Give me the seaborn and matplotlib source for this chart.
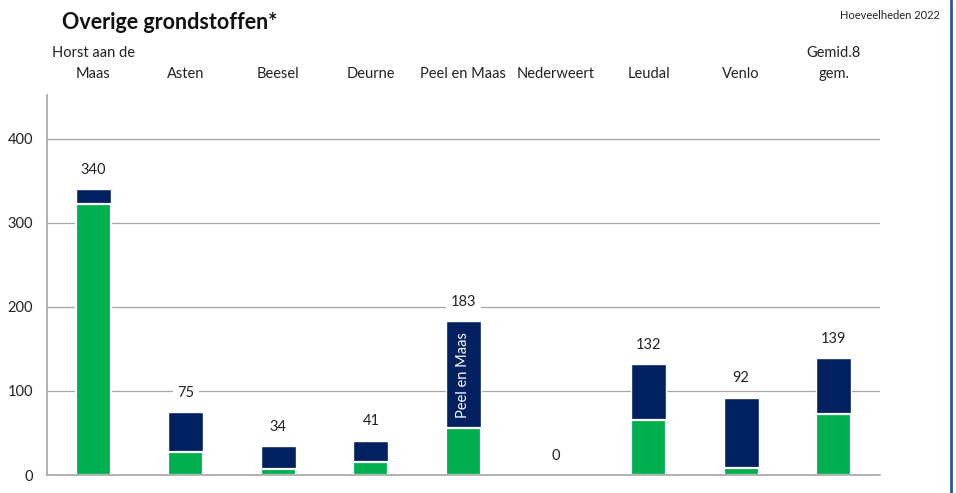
import numpy as np
import pandas as pd
import matplotlib
matplotlib.use("Agg")
import matplotlib.pyplot as plt
import seaborn as sns

# gemeenten (labels boven de grafiek)
gemeenten = ["Horst aan de\nMaas", "Asten", "Beesel", "Deurne", "Peel en Maas",
             "Nederweert", "Leudal", "Venlo", "Gemid.8\ngem."]
groen = [322, 27, 7, 16, 56, 0, 65, 8, 72]
blauw = [18, 48, 27, 25, 127, 0, 67, 84, 67]
totaal = [340, 75, 34, 41, 183, 0, 132, 92, 139]
yticks = [0, 100, 200, 300, 400]

df = pd.DataFrame({"gemeente": gemeenten, "groen": groen, "blauw": blauw, "totaal": totaal})

sns.set_theme(style="white")
plt.rcParams["font.family"] = ["Lato", "DejaVu Sans"]

fig = plt.figure(figsize=(9.56, 4.93), dpi=100)
ax = fig.add_axes([0.049, 0.0365, 0.8715, 0.7705])

navy = "#002060"
green = "#00B050"
grijs = "#A6A6A6"

# totale hoogte in donkerblauw, groen eroverheen
sns.barplot(data=df, x="gemeente", y="totaal", color=navy, width=0.38,
            edgecolor="white", linewidth=1.0, saturation=1, ax=ax, zorder=3)
sns.barplot(data=df, x="gemeente", y="groen", color=green, width=0.38,
            edgecolor="white", linewidth=1.6, saturation=1, ax=ax, zorder=4)

ax.set_xlim(-0.5, len(gemeenten) - 0.5)
ax.set_ylim(0, 452)
ax.set_yticks(yticks)
ax.set_yticklabels([str(t) for t in yticks], fontsize=10.5, color="#222222")
ax.yaxis.grid(True, color=grijs, linewidth=0.9)
ax.set_axisbelow(True)
ax.tick_params(axis="y", length=4, color=grijs, pad=6)

ax.xaxis.tick_top()
ax.tick_params(axis="x", length=0, pad=10, labelsize=10.5, labelcolor="#222222")
ax.set_xticks(range(len(gemeenten)))
ax.set_xticklabels(gemeenten, multialignment="center", linespacing=1.65)
ax.set_xlabel("")
ax.set_ylabel("")

for s in ["top", "right"]:
    ax.spines[s].set_visible(False)
for s in ["left", "bottom"]:
    ax.spines[s].set_color(grijs)
    ax.spines[s].set_linewidth(1.2)
    ax.spines[s].set_zorder(7)

# waarden boven de staven
for i, v in enumerate(totaal):
    ax.annotate(str(v), (i, v), xytext=(0, 14), textcoords="offset points",
                ha="center", va="center", fontsize=10.5, color="#222222",
                bbox=dict(boxstyle="square,pad=0.3", fc="white", ec="none"), zorder=5)

# gemarkeerde gemeente in de staaf
i_pm = gemeenten.index("Peel en Maas")
ax.text(i_pm, groen[i_pm] + blauw[i_pm] / 2, "Peel en Maas", rotation=90,
        ha="center", va="center", color="white", fontsize=10.5, zorder=6)

fig.text(0.065, 0.955, "Overige grondstoffen*", fontsize=15.5, fontweight="bold",
         ha="left", va="center", color="#111111")
fig.text(0.983, 0.968, "Hoeveelheden 2022", fontsize=8, ha="right", va="center",
         color="#222222")

# blauwe lijn rechts
fig.add_artist(plt.Line2D([0.995, 0.995], [0, 1], color="#2F5597",
                          linewidth=2, transform=fig.transFigure))

fig.savefig("out.png", dpi=100)
